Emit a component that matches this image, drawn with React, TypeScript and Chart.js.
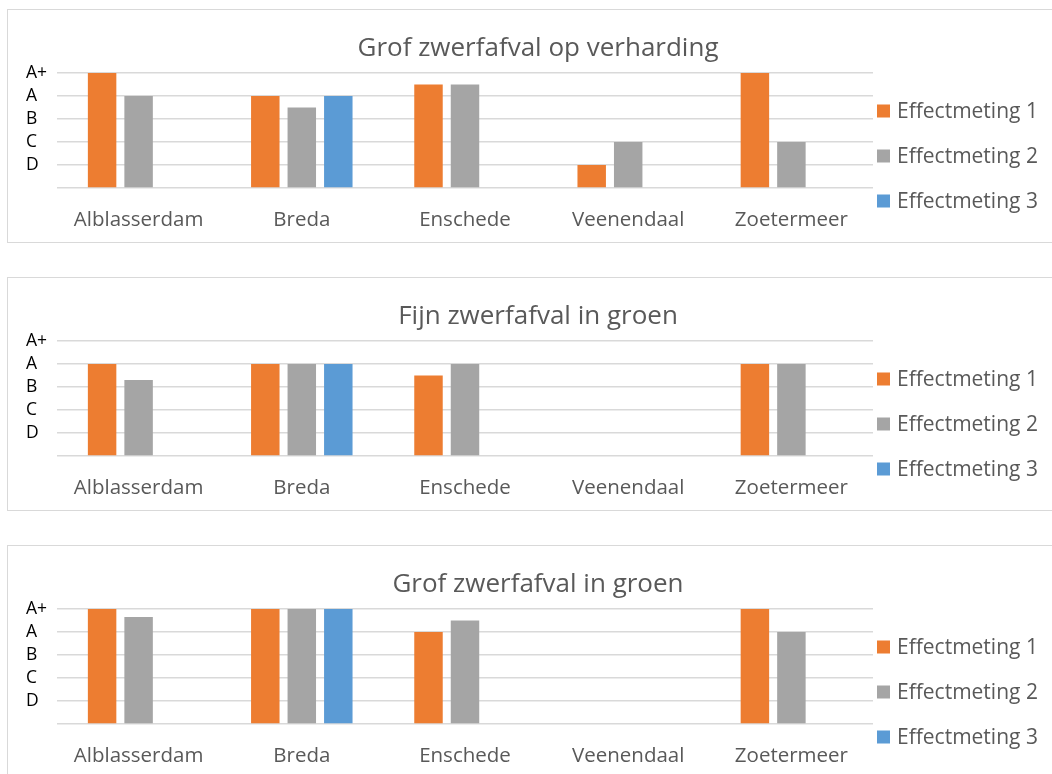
import React, { useEffect, useRef } from "react";
import { Chart, registerables } from "chart.js";

Chart.register(...registerables);

// ---- data ----
const categories = ["Alblasserdam", "Breda", "Enschede", "Veenendaal", "Zoetermeer"];
const seriesNames = ["Effectmeting 1", "Effectmeting 2", "Effectmeting 3"];
const seriesColors = ["#ED7D31", "#A5A5A5", "#5B9BD5"];
const gradeLabels = ["", "D", "C", "B", "A", "A+"]; // index = numeric score

const titleGrofVerharding = "Grof zwerfafval op verharding";
const grofVerhardingE1 = [5, 4, 4.5, 1, 5];
const grofVerhardingE2 = [4, 3.5, 4.5, 2, 2];
const grofVerhardingE3 = [null, 4, null, null, null];

const titleFijnGroen = "Fijn zwerfafval in groen";
const fijnGroenE1 = [4, 4, 3.5, null, 4];
const fijnGroenE2 = [3.3, 4, 4, null, 4];
const fijnGroenE3 = [null, 4, null, null, null];

const titleGrofGroen = "Grof zwerfafval in groen";
const grofGroenE1 = [5, 5, 4, null, 5];
const grofGroenE2 = [4.65, 5, 4.5, null, 4];
const grofGroenE3 = [null, 5, null, null, null];

// ---- styling ----
const FONT = '"Open Sans", "Noto Sans", sans-serif';
const TEXT_GRAY = "#595959";
const GRID = "#d9d9d9";
const CANVAS_W = 1060;
const CANVAS_H = 232;

// Title centred over the whole chart box, legend at the right of the plot area
const panelDecor = {
  id: "panelDecor",
  afterDraw(chart: any, _args: any, opts: any) {
    const ctx = chart.ctx;
    const { right, top } = chart.chartArea;
    ctx.save();
    ctx.textBaseline = "middle";
    // title
    ctx.font = `26px ${FONT}`;
    ctx.textAlign = "center";
    ctx.fillStyle = TEXT_GRAY;
    ctx.fillText(opts.title || "", chart.width / 2, 39);
    // legend
    ctx.font = `21px ${FONT}`;
    ctx.textAlign = "left";
    chart.data.datasets.forEach((ds: any, i: number) => {
      const cy = top + 38 + i * 45;
      ctx.fillStyle = ds.backgroundColor;
      ctx.fillRect(right + 4, cy - 6.5, 13, 13);
      ctx.fillStyle = TEXT_GRAY;
      ctx.fillText(ds.label, right + 24, cy + 1);
    });
    ctx.restore();
  },
};

function BarPanel(props: { title: string; series: (number | null)[][]; top: number }) {
  const ref = useRef<HTMLCanvasElement>(null);
  useEffect(() => {
    const chart = new Chart(ref.current as HTMLCanvasElement, {
      type: "bar",
      data: {
        labels: categories,
        datasets: props.series.map((values, i) => ({
          label: seriesNames[i],
          data: values,
          backgroundColor: seriesColors[i],
          borderWidth: 0,
        })),
      },
      options: {
        animation: false,
        responsive: false,
        layout: { padding: { top: 63, bottom: 9, left: 18, right: 195 } },
        datasets: { bar: { barPercentage: 0.78, categoryPercentage: 0.671 } },
        plugins: {
          legend: { display: false },
          tooltip: { enabled: false },
          title: { display: false },
          panelDecor: { title: props.title },
        } as any,
        scales: {
          x: {
            grid: { display: false, drawTicks: false },
            border: { display: false },
            ticks: {
              color: TEXT_GRAY,
              font: { family: FONT, size: 20.5 },
              padding: 20,
              maxRotation: 0,
              autoSkip: false,
            },
            afterFit: (s: any) => {
              s.height = 45;
            },
          },
          y: {
            min: 0,
            max: 5,
            grid: { color: GRID, lineWidth: 1.5, drawTicks: false },
            border: { display: false },
            ticks: {
              stepSize: 1,
              autoSkip: false,
              color: "#000000",
              font: { family: FONT, size: 17.5, lineHeight: 1 },
              crossAlign: "far",
              padding: 0,
              callback: (v: any) => gradeLabels[Number(v)] ?? "",
            },
            afterFit: (s: any) => {
              s.width = 31;
            },
          },
        },
      },
      plugins: [panelDecor],
    });
    return () => chart.destroy();
  }, []);

  return (
    <div
      style={{
        position: "absolute",
        left: 7,
        top: props.top,
        width: CANVAS_W + 2,
        height: CANVAS_H + 2,
        border: `1px solid ${GRID}`,
        boxSizing: "border-box",
        background: "#fff",
      }}
    >
      <canvas ref={ref} width={CANVAS_W} height={CANVAS_H} style={{ display: "block" }} />
    </div>
  );
}

export default function App() {
  return (
    <div
      style={{
        position: "fixed",
        left: 0,
        top: 0,
        width: 1052,
        height: 774,
        overflow: "hidden",
        background: "#fff",
      }}
    >
      <BarPanel title={titleGrofVerharding} series={[grofVerhardingE1, grofVerhardingE2, grofVerhardingE3]} top={9} />
      <BarPanel title={titleFijnGroen} series={[fijnGroenE1, fijnGroenE2, fijnGroenE3]} top={277} />
      <BarPanel title={titleGrofGroen} series={[grofGroenE1, grofGroenE2, grofGroenE3]} top={545} />
    </div>
  );
}
